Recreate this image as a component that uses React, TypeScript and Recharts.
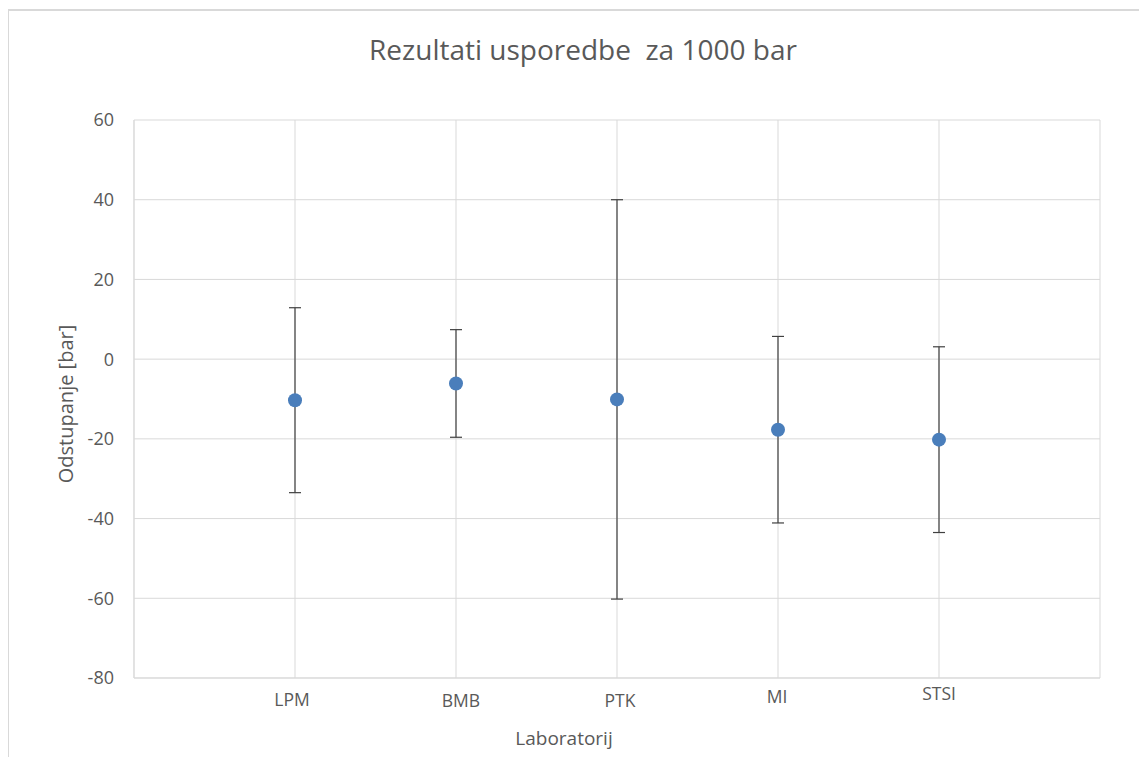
import React from 'react';
import { ScatterChart, Scatter, XAxis, YAxis, CartesianGrid, ErrorBar, Label } from 'recharts';

const categories = ['LPM', 'BMB', 'PTK', 'MI', 'STSI'];
const deviations = [-10.3, -6.1, -10.1, -17.7, -20.2];
const uncertainties = [23.2, 13.5, 50.1, 23.4, 23.3];
const yTicks = [-80, -60, -40, -20, 0, 20, 40, 60];
const xTicks = [0, 1, 2, 3, 4, 5, 6];

const labelDx = [-3, 5, 3, -1, 0];
const labelDy = [0, 1, 1, -3, -6];

const data = categories.map((name, i) => ({
  x: i + 1,
  y: deviations[i],
  err: uncertainties[i],
  name,
}));

const FONT = '"Open Sans", sans-serif';
const TEXT = '#595959';
const GRID = '#d9d9d9';

const XTick = (props: any) => {
  const { x, y, payload } = props;
  const idx = payload.value - 1;
  if (idx < 0 || idx >= categories.length) return null;
  return (
    <text
      x={x + labelDx[idx]}
      y={y + 28 + labelDy[idx]}
      textAnchor="middle"
      fontFamily={FONT}
      fontSize={17.5}
      fill={TEXT}
    >
      {categories[idx]}
    </text>
  );
};

export default function App() {
  return (
    <div style={{ margin: -8, width: 1147, height: 765, position: 'relative', overflow: 'hidden', background: '#fff' }}>
      <div
        style={{
          position: 'absolute',
          left: 7,
          top: 9,
          width: 1200,
          height: 800,
          borderLeft: '2px solid #d9d9d9',
          borderTop: '2px solid #d9d9d9',
        }}
      />
      <div
        style={{
          position: 'absolute',
          left: 0,
          top: 30,
          width: 1166,
          textAlign: 'center',
          fontFamily: FONT,
          fontSize: 28,
          color: TEXT,
          whiteSpace: 'pre',
        }}
      >
        {'Rezultati usporedbe  za 1000 bar'}
      </div>
      <div style={{ position: 'absolute', left: 0, top: 0 }}>
        <ScatterChart width={1147} height={765} margin={{ top: 120, right: 47, bottom: 0, left: 64 }}>
          <CartesianGrid stroke={GRID} strokeWidth={1} />
          <XAxis
            type="number"
            dataKey="x"
            domain={[0, 6]}
            ticks={xTicks}
            interval={0}
            tickLine={false}
            tickSize={0}
            tickMargin={0}
            axisLine={{ stroke: GRID }}
            tick={<XTick />}
            height={87}
          >
            <Label
              content={() => (
                <text x={564} y={745} textAnchor="middle" fontFamily={FONT} fontSize={19} fill={TEXT}>
                  Laboratorij
                </text>
              )}
            />
          </XAxis>
          <YAxis
            type="number"
            dataKey="y"
            domain={[-80, 60]}
            ticks={yTicks}
            interval={0}
            width={70}
            tickLine={false}
            tickSize={0}
            tickMargin={20}
            axisLine={{ stroke: GRID }}
            tick={{ fontFamily: FONT, fontSize: 18, fill: TEXT }}
          >
            <Label
              content={() => (
                <text
                  x={73}
                  y={404}
                  transform="rotate(-90 73 404)"
                  textAnchor="middle"
                  fontFamily={FONT}
                  fontSize={20}
                  fill={TEXT}
                >
                  Odstupanje [bar]
                </text>
              )}
            />
          </YAxis>
          <Scatter
            data={data}
            fill="#4a7ebb"
            isAnimationActive={false}
            shape={(p: any) => <circle cx={p.cx} cy={p.cy} r={7} fill="#4a7ebb" />}
          >
            <ErrorBar dataKey="err" direction="y" width={6} stroke="#404040" strokeWidth={1.2} isAnimationActive={false} />
          </Scatter>
        </ScatterChart>
      </div>
    </div>
  );
}
